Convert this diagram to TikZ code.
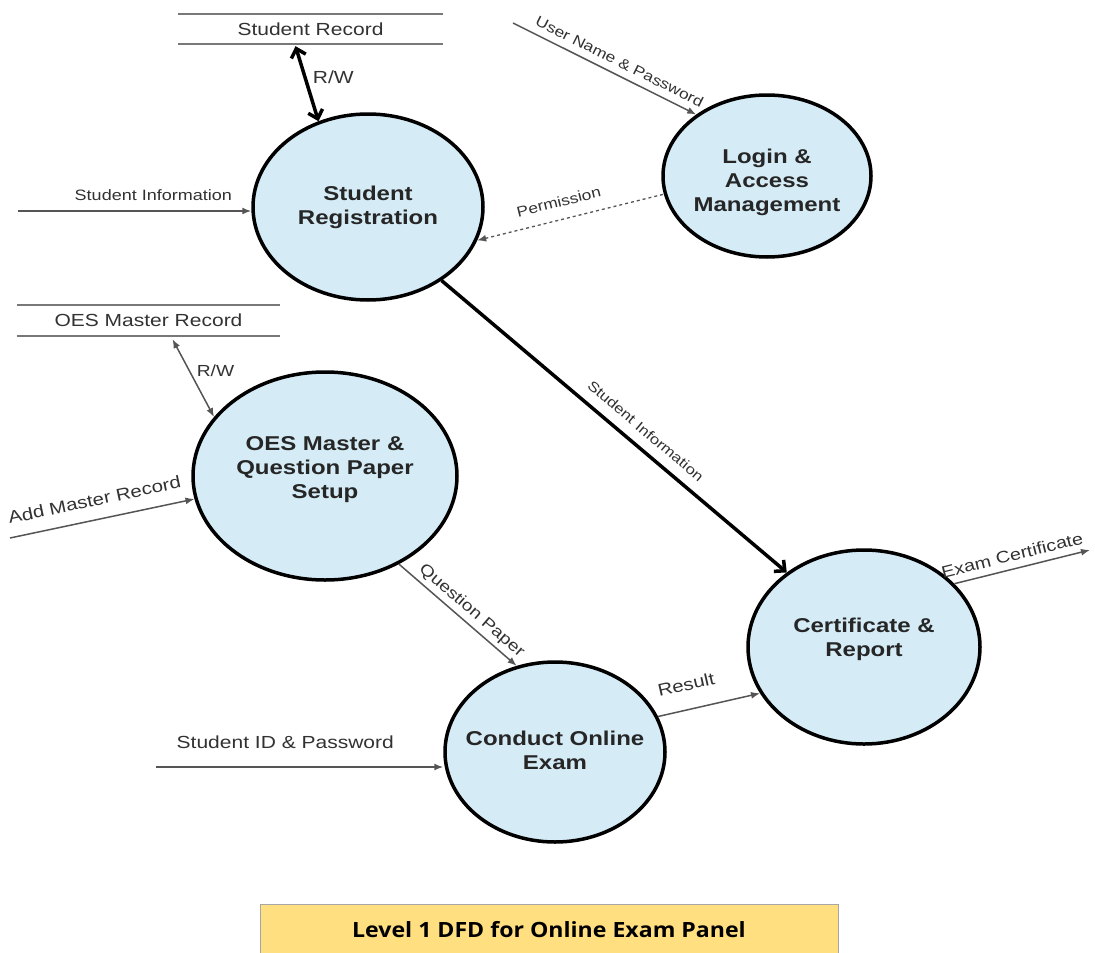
\documentclass[tikz,border=0pt]{standalone}
\usepackage{fontspec}
\setmainfont{Liberation Sans}[FakeStretch=1.2]
\newfontfamily\titlefont{Open Sans}[FakeStretch=1.1]
\usetikzlibrary{arrows.meta,shapes.geometric}

\definecolor{procfill}{RGB}{213,236,247}
\definecolor{flowgray}{RGB}{85,85,85}
\definecolor{labelgray}{RGB}{50,50,50}
\definecolor{storegray}{RGB}{120,120,120}
\definecolor{titlefill}{RGB}{255,223,128}

\tikzset{
  proc/.style={ellipse, draw=black, line width=3.5pt, fill=procfill, inner sep=0pt},
  ptext/.style={align=center, text=black!85, font=\bfseries\fontsize{20}{24}\selectfont},
  store/.style={inner sep=0pt, text=labelgray, font=\fontsize{17.5}{20}\selectfont},
  storeline/.style={draw=storegray, line width=2pt},
  flow/.style={draw=flowgray, line width=1.5pt, -{Latex[length=9pt,width=7pt]}},
  flowboth/.style={draw=flowgray, line width=1.5pt, {Latex[length=9pt,width=7pt]}-{Latex[length=9pt,width=7pt]}},
  bigflow/.style={draw=black, line width=3.5pt, -{Straight Barb[length=8pt,width=15pt]}},
  bigboth/.style={draw=black, line width=3.5pt, {Straight Barb[length=8pt,width=15pt]}-{Straight Barb[length=8pt,width=15pt]}},
  lbl/.style={text=labelgray, inner sep=1pt, sloped},
  fs/.style={font=\fontsize{#1}{#1}\selectfont},
}

\begin{document}
\begin{tikzpicture}[x=1pt,y=-1pt]
\useasboundingbox (0,0) rectangle (1095,953);
\clip (0,0) rectangle (1095,953);
\fill[white] (0,0) rectangle (1095,953);

% data stores
\node[store, minimum width=265pt, minimum height=30pt] (srec) at (310.5,29) {Student Record};
\draw[storeline] (srec.north west) -- (srec.north east) (srec.south west) -- (srec.south east);
\node[store, minimum width=263pt, minimum height=31pt] (oesrec) at (148.5,320.5) {OES Master Record};
\draw[storeline] (oesrec.north west) -- (oesrec.north east) (oesrec.south west) -- (oesrec.south east);

% processes
\node[proc, minimum width=230pt, minimum height=186pt,
      label={[ptext]center:Student\\Registration}] (sr) at (368,207) {};
\node[proc, minimum width=208pt, minimum height=162pt,
      label={[ptext,yshift=-6pt]center:Login \&\\Access\\Management}] (login) at (767,176) {};
\node[proc, minimum width=264pt, minimum height=208pt,
      label={[ptext,yshift=6pt]center:OES Master \&\\Question Paper\\Setup}] (oes) at (325,476) {};
\node[proc, minimum width=232pt, minimum height=194pt,
      label={[ptext,yshift=8pt]center:Certificate \&\\Report}] (cert) at (864,647) {};
\node[proc, minimum width=220pt, minimum height=180pt,
      label={[ptext,yshift=2pt]center:Conduct Online\\Exam}] (cond) at (555,752) {};

% free ends of the external flows
\coordinate (sinfo) at (18,211);
\coordinate (uname) at (513,23);
\coordinate (addrec) at (10,538);
\coordinate (sidpw) at (156,767);
\coordinate (certout) at (1090,550);

% flows
\draw[bigboth] ([xshift=-15pt,yshift=-2pt]srec.south) -- (sr.120)
  node[pos=0.42, right=5pt, text=labelgray, inner sep=1pt, fs=17.5] {R/W};
\draw[flow] (sinfo) -- (sinfo -| sr.west)
  node[lbl, fs=15, pos=0.58, above=9pt] {Student Information};
\draw[flow] (uname) -- (login.139)
  node[lbl, fs=14.5, pos=0.55, above=6pt] {User Name \& Password};
\draw[flow, dashed, {Latex[length=9pt,width=7pt]}-, line width=1.3pt] (sr.-17) -- (login.190)
  node[lbl, fs=14.5, pos=0.46, above=11pt] {Permission};
\draw[bigflow] (sr.-45) -- (cert.136)
  node[lbl, fs=14, pos=0.56, above=9pt] {Student Information};
\draw[flowboth] ([xshift=24pt,yshift=-3pt]oesrec.south) -- (oes.152)
  node[pos=0.4, right=6pt, text=labelgray, inner sep=1pt, fs=16] {R/W};
\draw[flow] (addrec) -- (oes.190)
  node[lbl, fs=17, pos=0.48, above=12pt] {Add Master Record};
\draw[flow] (oes.-50) -- (cond.114)
  node[lbl, fs=16, pos=0.55, above=3pt] {Question Paper};
\draw[flow] (sidpw) -- (sidpw -| cond.west)
  node[lbl, fs=17.5, pos=0.45, above=17pt] {Student ID \& Password};
\draw[flow] (cond.19) -- (cert.204)
  node[lbl, fs=17, pos=0.33, above=17pt] {Result};
\draw[flow] (cert.35) -- (certout)
  node[lbl, fs=16.5, pos=0.45, above=6pt] {Exam Certificate};

% caption
\node[draw=black!35, line width=1pt, fill=titlefill, minimum width=578pt, minimum height=52pt,
      font=\titlefont\bfseries\fontsize{21}{24}\selectfont] (title) at (549,930)
  {Level 1 DFD for Online Exam Panel};
\end{tikzpicture}
\end{document}
